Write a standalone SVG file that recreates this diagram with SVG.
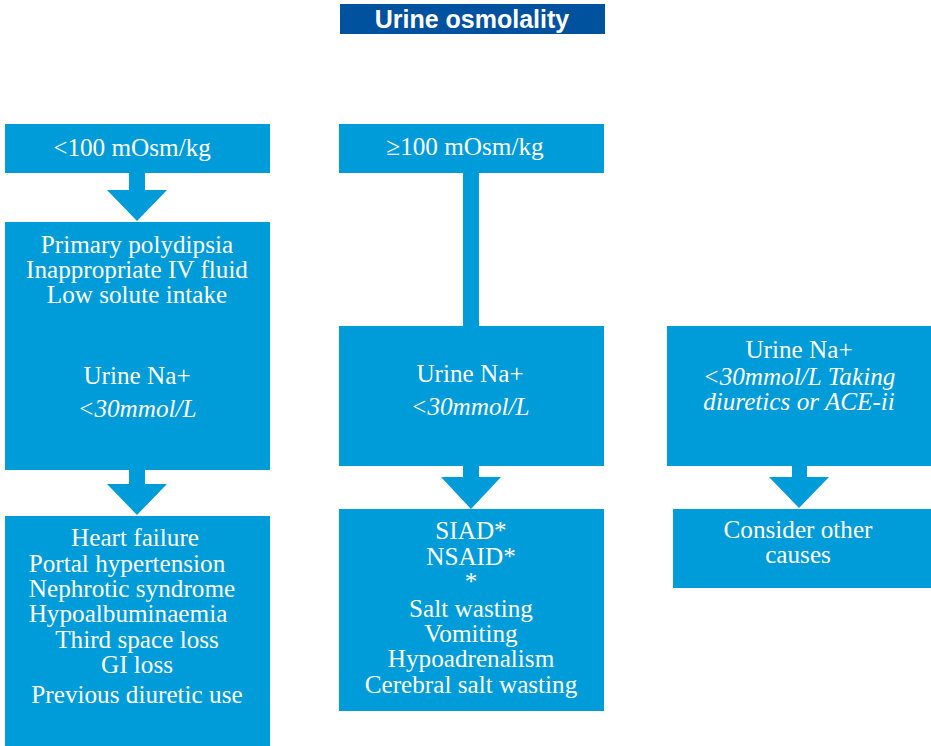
<svg xmlns="http://www.w3.org/2000/svg" width="931" height="746" viewBox="0 0 931 746">
<style>
.box{fill:#009BD9}
.title{fill:#00529F}
.t{font-family:"Liberation Serif","Times New Roman",serif;font-size:25.2px;fill:#fff;text-anchor:middle}
.i{font-style:italic}
.h{font-family:"Liberation Sans",Arial,sans-serif;font-size:25px;font-weight:bold;fill:#fff;text-anchor:middle}
.c{fill:#009BD9}
</style>
<rect width="931" height="746" fill="#fff"/>
<g id="title">
<rect class="title" x="340" y="4" width="265" height="30"/>
<text class="h" x="472" y="28">Urine osmolality</text>
</g>
<g id="connectors">
<polygon class="c" points="129,172 145,172 145,190 167,190 137,221 107,190 129,190"/>
<polygon class="c" points="129,469 145,469 145,484 167,484 137,515 107,484 129,484"/>
<rect class="c" x="463" y="172" width="16" height="155"/>
<polygon class="c" points="463,465 479,465 479,477 501,477 471,509 441,477 463,477"/>
<polygon class="c" points="792,465 807,465 807,477 829,477 799,508 769,477 792,477"/>
</g>
<g id="lt100">
<rect class="box" x="5" y="124" width="265" height="49"/>
<text class="t" x="132" y="156">&lt;100 mOsm/kg</text>
</g>
<g id="ge100">
<rect class="box" x="339" y="124" width="265" height="49"/>
<text class="t" x="465" y="155">≥100 mOsm/kg</text>
</g>
<g id="left-mid">
<rect class="box" x="5" y="222" width="265" height="248"/>
<text class="t" x="137" y="253">Primary polydipsia</text>
<text class="t" x="137" y="278">Inappropriate IV fluid</text>
<text class="t" x="137" y="303">Low solute intake</text>
<text class="t" x="137" y="384">Urine Na+</text>
<text class="t i" x="137" y="417">&lt;30mmol/L</text>
</g>
<g id="mid-mid">
<rect class="box" x="339" y="326" width="265" height="140"/>
<text class="t" x="470" y="382">Urine Na+</text>
<text class="t i" x="470" y="415">&lt;30mmol/L</text>
</g>
<g id="right-mid">
<rect class="box" x="667" y="326" width="264" height="140"/>
<text class="t" x="799" y="358">Urine Na+</text>
<text class="t i" x="799" y="385">&lt;30mmol/L Taking</text>
<text class="t i" x="799" y="410">diuretics or ACE-ii</text>
</g>
<g id="left-bottom">
<rect class="box" x="5" y="516" width="265" height="230"/>
<text class="t" x="135" y="546">Heart failure</text>
<text class="t" x="127" y="572">Portal hypertension</text>
<text class="t" x="132" y="597">Nephrotic syndrome</text>
<text class="t" x="128" y="622">Hypoalbuminaemia</text>
<text class="t" x="137" y="648">Third space loss</text>
<text class="t" x="137" y="673">GI loss</text>
<text class="t" x="137" y="703">Previous diuretic use</text>
</g>
<g id="mid-bottom">
<rect class="box" x="339" y="509" width="265" height="202"/>
<text class="t" x="471" y="539">SIAD*</text>
<text class="t" x="471" y="565">NSAID*</text>
<text class="t" x="471" y="590">*</text>
<text class="t" x="471" y="617">Salt wasting</text>
<text class="t" x="471" y="642">Vomiting</text>
<text class="t" x="471" y="667">Hypoadrenalism</text>
<text class="t" x="471" y="693">Cerebral salt wasting</text>
</g>
<g id="right-bottom">
<rect class="box" x="673" y="509" width="258" height="79"/>
<text class="t" x="798" y="538">Consider other</text>
<text class="t" x="798" y="563">causes</text>
</g>
</svg>
